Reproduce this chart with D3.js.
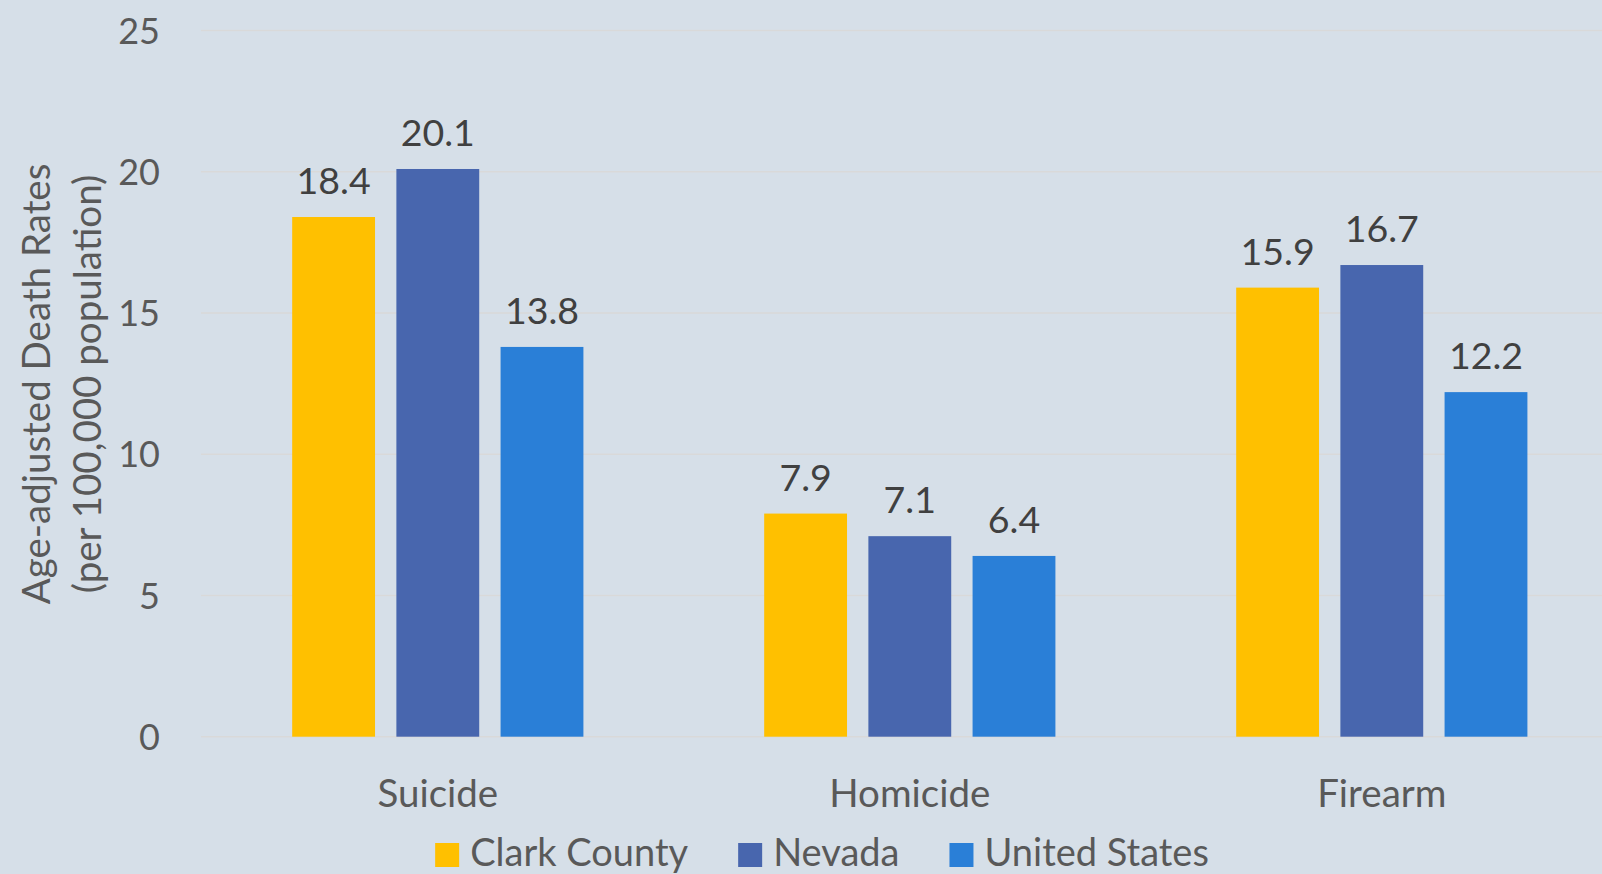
<!DOCTYPE html>
<html>
<head>
<meta charset="utf-8">
<script src="https://cdn.jsdelivr.net/npm/d3@7"></script>
<style>
  html, body { margin: 0; padding: 0; background: #D6DFE8; overflow: hidden; }
  svg { display: block; }
  text { font-family: Lato, "Open Sans", sans-serif; }
</style>
</head>
<body>
<svg id="chart" width="1602" height="874"></svg>
<script>
const categories = ["Suicide", "Homicide", "Firearm"];
const seriesNames = ["Clark County", "Nevada", "United States"];
const clarkCounty = [18.4, 7.9, 15.9];
const nevada = [20.1, 7.1, 16.7];
const unitedStates = [13.8, 6.4, 12.2];
const yTicks = [0, 5, 10, 15, 20, 25];
const colors = ["#FFC000", "#4866AE", "#2A7FD7"];
const yTitle = ["Age-adjusted Death Rates", "(per 100,000 population)"];

const seriesValues = [clarkCounty, nevada, unitedStates];
const W = 1602, H = 874;
const svg = d3.select("#chart");

svg.append("rect").attr("width", W).attr("height", H).attr("fill", "#D6DFE8");

const y = d3.scaleLinear().domain([0, 25]).range([736.7, 30.6]);
const x0 = d3.scaleBand().domain(categories).range([201.8, 1617.8])
  .paddingInner(0.383).paddingOuter(0.1915);
const x1 = d3.scaleBand().domain(seriesNames).range([0, x0.bandwidth()])
  .paddingInner(0.205).paddingOuter(0);

// gridlines
svg.append("g").selectAll("line").data(yTicks).join("line")
  .attr("x1", 201).attr("x2", W)
  .attr("y1", d => y(d)).attr("y2", d => y(d))
  .attr("stroke", "#D9D9D9").attr("stroke-width", 1.5);

// y axis labels
const yAxis = d3.axisLeft(y).tickValues(yTicks).tickSize(0).tickPadding(0).tickFormat(d3.format("d"));
const yg = svg.append("g").attr("transform", "translate(160,0)").call(yAxis);
yg.select(".domain").remove();
yg.selectAll("text").attr("font-size", 36).attr("fill", "#595959")
  .attr("font-family", "Lato, 'Open Sans', sans-serif").attr("dy", "0.35em");

// bars
const rows = categories.map((c, i) => ({ cat: c, vals: seriesNames.map((s, j) => ({ s, j, v: seriesValues[j][i] })) }));
const groups = svg.append("g").selectAll("g").data(rows).join("g")
  .attr("transform", d => `translate(${x0(d.cat)},0)`);
groups.selectAll("rect").data(d => d.vals).join("rect")
  .attr("x", d => x1(d.s)).attr("width", x1.bandwidth())
  .attr("y", d => y(d.v)).attr("height", d => y(0) - y(d.v))
  .attr("fill", d => colors[d.j]);
groups.selectAll("text").data(d => d.vals).join("text")
  .attr("x", d => x1(d.s) + x1.bandwidth() / 2)
  .attr("y", d => y(d.v) - 23)
  .attr("text-anchor", "middle").attr("font-size", 37.5).attr("fill", "#404040")
  .text(d => d3.format(".1f")(d.v));

// category labels
const xAxis = d3.axisBottom(x0).tickSize(0).tickPadding(0);
const xg = svg.append("g").attr("transform", "translate(0,780)").call(xAxis);
xg.select(".domain").remove();
xg.selectAll("text").attr("font-size", 38.5).attr("fill", "#595959")
  .attr("font-family", "Lato, 'Open Sans', sans-serif").attr("dy", "0.7em");

// y axis title
const tg = svg.append("g").attr("transform", "translate(0,384) rotate(-90)");
tg.selectAll("text").data(yTitle).join("text")
  .attr("x", 0).attr("y", (d, i) => 35 + i * 51)
  .attr("dominant-baseline", "central").attr("text-anchor", "middle")
  .attr("font-size", 38.5).attr("fill", "#595959").text(d => d);

// legend
const lg = svg.append("g");
const items = lg.selectAll("g").data(seriesNames).join("g");
items.append("rect").attr("width", 24).attr("height", 24).attr("y", 843)
  .attr("fill", (d, i) => colors[i]);
items.append("text").attr("y", 866).attr("font-size", 38).attr("fill", "#595959").text(d => d);
let widths = [];
items.each(function() { widths.push(d3.select(this).select("text").node().getComputedTextLength()); });
const total = widths.reduce((a, w) => a + 24 + 11 + w, 0) + 50 * (widths.length - 1);
let cx = 822 - total / 2;
items.each(function(d, i) {
  const g = d3.select(this);
  g.select("rect").attr("x", cx);
  g.select("text").attr("x", cx + 35);
  cx += 35 + widths[i] + 50;
});
</script>
</body>
</html>
